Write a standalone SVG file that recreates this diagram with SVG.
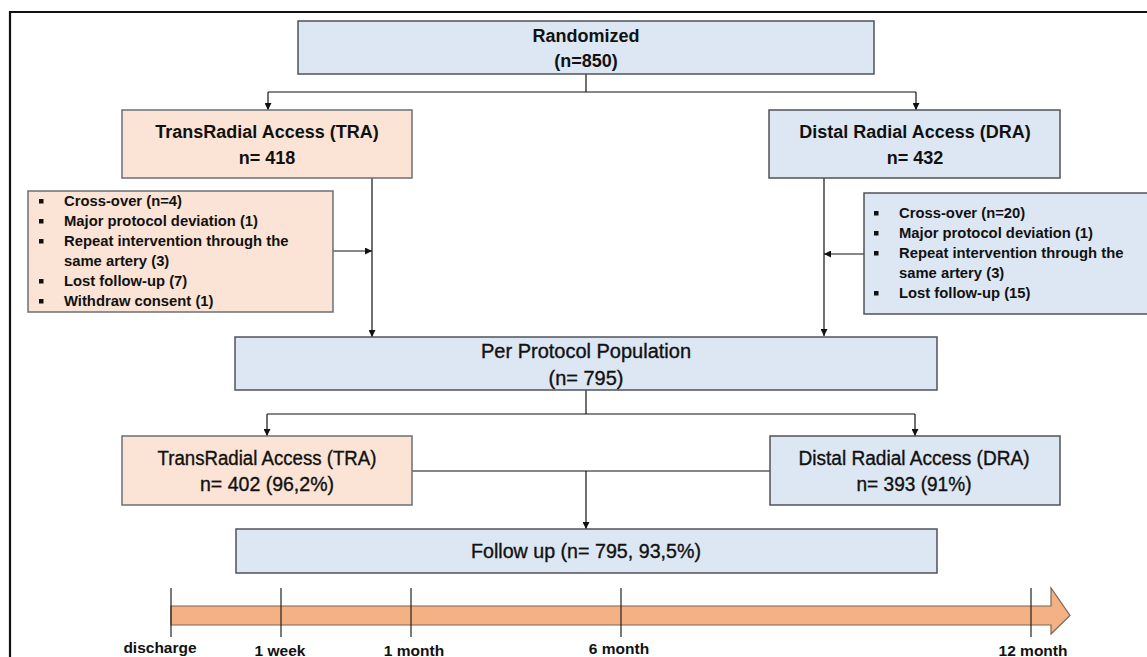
<svg xmlns="http://www.w3.org/2000/svg" width="1147" height="657" viewBox="0 0 1147 657">
<style>
.blue{fill:#DDE7F3;stroke:#4f5358;stroke-width:1.5}
.orange{fill:#FBE4D5;stroke:#6b6f74;stroke-width:1.5}
.t{font-family:"Liberation Sans",Arial,sans-serif;font-weight:bold;font-size:18px;fill:#111;text-anchor:middle}
.c{font-family:"Liberation Sans",Arial,sans-serif;font-size:19.5px;fill:#111;stroke:#111;stroke-width:0.35;text-anchor:middle}
.l{font-family:"Liberation Sans",Arial,sans-serif;font-weight:bold;font-size:14.8px;fill:#111}
.tl{font-family:"Liberation Sans",Arial,sans-serif;font-weight:bold;font-size:15.5px;fill:#111;text-anchor:middle}
.conn{stroke:#111;stroke-width:1.2;fill:none}
.tick{stroke:#222;stroke-width:1.2}
</style>
<defs>
<marker id="ah" viewBox="0 0 10 10" refX="10" refY="5" markerWidth="7" markerHeight="7" markerUnits="userSpaceOnUse" orient="auto">
<path d="M0,0 L10,5 L0,10 z" fill="#111"/>
</marker>
</defs>
<rect width="1147" height="657" fill="#fff"/>
<g id="frame">
<line x1="10" y1="12" x2="1147" y2="12" stroke="#111" stroke-width="2.2"/>
<line x1="10" y1="11" x2="10" y2="657" stroke="#111" stroke-width="2.2"/>
</g>
<g id="connectors">
<line class="conn" x1="586" y1="74" x2="586" y2="92"/>
<line class="conn" x1="268" y1="92" x2="916" y2="92"/>
<line class="conn" x1="268" y1="92" x2="268" y2="110" marker-end="url(#ah)"/>
<line class="conn" x1="916" y1="92" x2="916" y2="110" marker-end="url(#ah)"/>
<line class="conn" x1="372" y1="178" x2="372" y2="337" marker-end="url(#ah)"/>
<line class="conn" x1="824" y1="178" x2="824" y2="336" marker-end="url(#ah)"/>
<line class="conn" x1="333" y1="251" x2="372" y2="251" marker-end="url(#ah)"/>
<line class="conn" x1="864" y1="254" x2="824" y2="254" marker-end="url(#ah)"/>
<line class="conn" x1="586" y1="390" x2="586" y2="414"/>
<line class="conn" x1="267" y1="414" x2="915" y2="414"/>
<line class="conn" x1="267" y1="414" x2="267" y2="436" marker-end="url(#ah)"/>
<line class="conn" x1="915" y1="414" x2="915" y2="436" marker-end="url(#ah)"/>
<line class="conn" x1="412" y1="471" x2="770" y2="471"/>
<line class="conn" x1="586" y1="471" x2="586" y2="529" marker-end="url(#ah)"/>
</g>
<g id="randomized">
<rect class="blue" x="298" y="21" width="576" height="53"/>
<text class="t" x="586" y="42">Randomized</text>
<text class="t" x="586" y="67">(n=850)</text>
</g>
<g id="tra1">
<rect class="orange" x="122" y="110" width="290" height="68"/>
<text class="t" x="267" y="138">TransRadial Access (TRA)</text>
<text class="t" x="267" y="164">n= 418</text>
</g>
<g id="dra1">
<rect class="blue" x="769" y="110" width="291" height="68"/>
<text class="t" x="915" y="138">Distal Radial Access (DRA)</text>
<text class="t" x="915" y="164">n= 432</text>
</g>
<g id="excl-tra">
<rect class="orange" x="28" y="191" width="305" height="121"/>
<g fill="#111">
<rect x="39" y="199" width="4.5" height="4.5"/>
<rect x="39" y="219" width="4.5" height="4.5"/>
<rect x="39" y="239" width="4.5" height="4.5"/>
<rect x="39" y="279" width="4.5" height="4.5"/>
<rect x="39" y="299" width="4.5" height="4.5"/>
</g>
<text class="l" x="64" y="206">Cross-over (n=4)</text>
<text class="l" x="64" y="226">Major protocol deviation (1)</text>
<text class="l" x="64" y="246">Repeat intervention through the</text>
<text class="l" x="64" y="266">same artery (3)</text>
<text class="l" x="64" y="286">Lost follow-up (7)</text>
<text class="l" x="64" y="306">Withdraw consent (1)</text>
</g>
<g id="excl-dra">
<rect class="blue" x="864" y="193" width="290" height="121"/>
<g fill="#111">
<rect x="874" y="211" width="4.5" height="4.5"/>
<rect x="874" y="231" width="4.5" height="4.5"/>
<rect x="874" y="251" width="4.5" height="4.5"/>
<rect x="874" y="291" width="4.5" height="4.5"/>
</g>
<text class="l" x="899" y="218">Cross-over (n=20)</text>
<text class="l" x="899" y="238">Major protocol deviation (1)</text>
<text class="l" x="899" y="258">Repeat intervention through the</text>
<text class="l" x="899" y="278">same artery (3)</text>
<text class="l" x="899" y="298">Lost follow-up (15)</text>
</g>
<g id="per-protocol">
<rect class="blue" x="235" y="337" width="702" height="53"/>
<text class="c" x="586" y="358" textLength="210" lengthAdjust="spacingAndGlyphs">Per Protocol Population</text>
<text class="c" x="586" y="385" textLength="75" lengthAdjust="spacingAndGlyphs">(n= 795)</text>
</g>
<g id="tra2">
<rect class="orange" x="122" y="436" width="290" height="69"/>
<text class="c" x="267" y="465" textLength="219" lengthAdjust="spacingAndGlyphs">TransRadial Access (TRA)</text>
<text class="c" x="267" y="491" textLength="134" lengthAdjust="spacingAndGlyphs">n= 402 (96,2%)</text>
</g>
<g id="dra2">
<rect class="blue" x="770" y="436" width="290" height="69"/>
<text class="c" x="914" y="465" textLength="231" lengthAdjust="spacingAndGlyphs">Distal Radial Access (DRA)</text>
<text class="c" x="914" y="491" textLength="115" lengthAdjust="spacingAndGlyphs">n= 393 (91%)</text>
</g>
<g id="follow-up">
<rect class="blue" x="236" y="529" width="701" height="44"/>
<text class="c" x="586" y="558" textLength="230" lengthAdjust="spacingAndGlyphs">Follow up (n= 795, 93,5%)</text>
</g>
<g id="timeline">
<path d="M171,606 L1051,606 L1051,588 L1070,615.5 L1051,634 L1051,625 L171,625 Z" fill="#F4B183" stroke="#7b6555" stroke-width="1.2"/>
<line class="tick" x1="171" y1="588" x2="171" y2="637"/>
<line class="tick" x1="281" y1="588" x2="281" y2="637"/>
<line class="tick" x1="411" y1="588" x2="411" y2="637"/>
<line class="tick" x1="621" y1="588" x2="621" y2="637"/>
<line class="tick" x1="1031" y1="588" x2="1031" y2="637"/>
<text class="tl" x="160" y="653">discharge</text>
<text class="tl" x="280" y="656">1 week</text>
<text class="tl" x="414" y="656">1 month</text>
<text class="tl" x="619" y="654">6 month</text>
<text class="tl" x="1033" y="656">12 month</text>
</g>
</svg>
